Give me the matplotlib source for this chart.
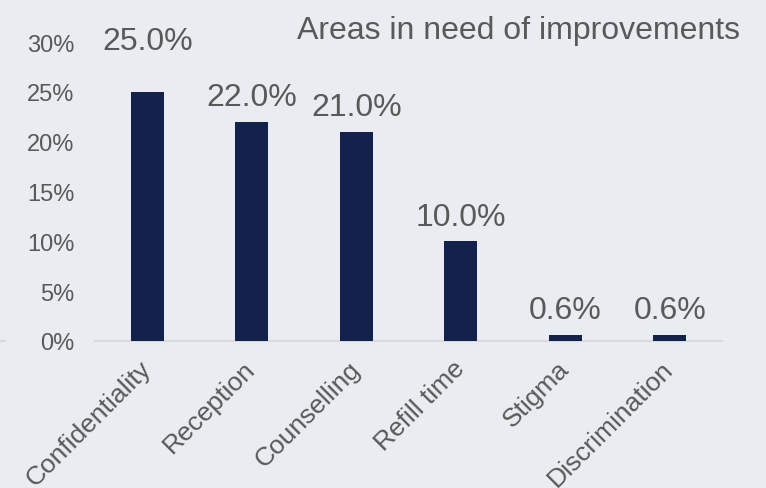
import matplotlib.pyplot as plt
from matplotlib.lines import Line2D
from matplotlib.ticker import PercentFormatter

# data
areas = ['Confidentiality', 'Reception', 'Counselling', 'Refill time', 'Stigma', 'Discrimination']
shares = [25.0, 22.0, 21.0, 10.0, 0.6, 0.6]
y_ticks = [0, 5, 10, 15, 20, 25, 30]

bg = '#E9ECF1'
bar_color = '#13224D'
text_color = '#595959'

plt.rcParams['font.family'] = ['Liberation Sans', 'DejaVu Sans']

fig = plt.figure(figsize=(7.66, 4.89), dpi=100, facecolor=bg)
ax = fig.add_axes([95 / 766, 1 - 342 / 489, (722 - 95) / 766, (342 - 43) / 489])
ax.set_facecolor(bg)

x = range(len(areas))
bars = ax.bar(x, shares, width=0.32, color=bar_color, zorder=3)

# value labels above each bar (the first one was pushed up in the original)
for i, (rect, v) in enumerate(zip(bars, shares)):
    off = 12 if i > 0 else 31
    ax.annotate('%.1f%%' % v, (rect.get_x() + rect.get_width() / 2, rect.get_height()),
                xytext=(0, off), textcoords='offset points', ha='center', va='baseline',
                fontsize=23, color=text_color)

ax.set_xlim(-0.5, len(areas) - 0.5)
ax.set_ylim(0, 30)
ax.set_yticks(y_ticks)
ax.yaxis.set_major_formatter(PercentFormatter(decimals=0))
ax.tick_params(axis='y', length=0, labelsize=17, labelcolor=text_color, pad=15)
ax.tick_params(axis='x', length=0, labelsize=19, labelcolor=text_color, pad=17)
ax.set_xticks(list(x))
ax.set_xticklabels(areas, rotation=45, ha='right', va='center', rotation_mode='anchor')

for s in ['top', 'right', 'left']:
    ax.spines[s].set_visible(False)
ax.spines['bottom'].set_color('#D9D9D9')
ax.spines['bottom'].set_linewidth(1.5)

# little leftover of the axis line at the far left edge
fig.add_artist(Line2D([0, 5 / 766], [1 - 342 / 489] * 2, color='#D9D9D9', lw=1.5,
                      transform=fig.transFigure))

fig.text(740 / 766, 1 - 39 / 489, 'Areas in need of improvements', ha='right', va='baseline',
         fontsize=23, color=text_color)

fig.savefig('out.png', dpi=100, facecolor=bg)
